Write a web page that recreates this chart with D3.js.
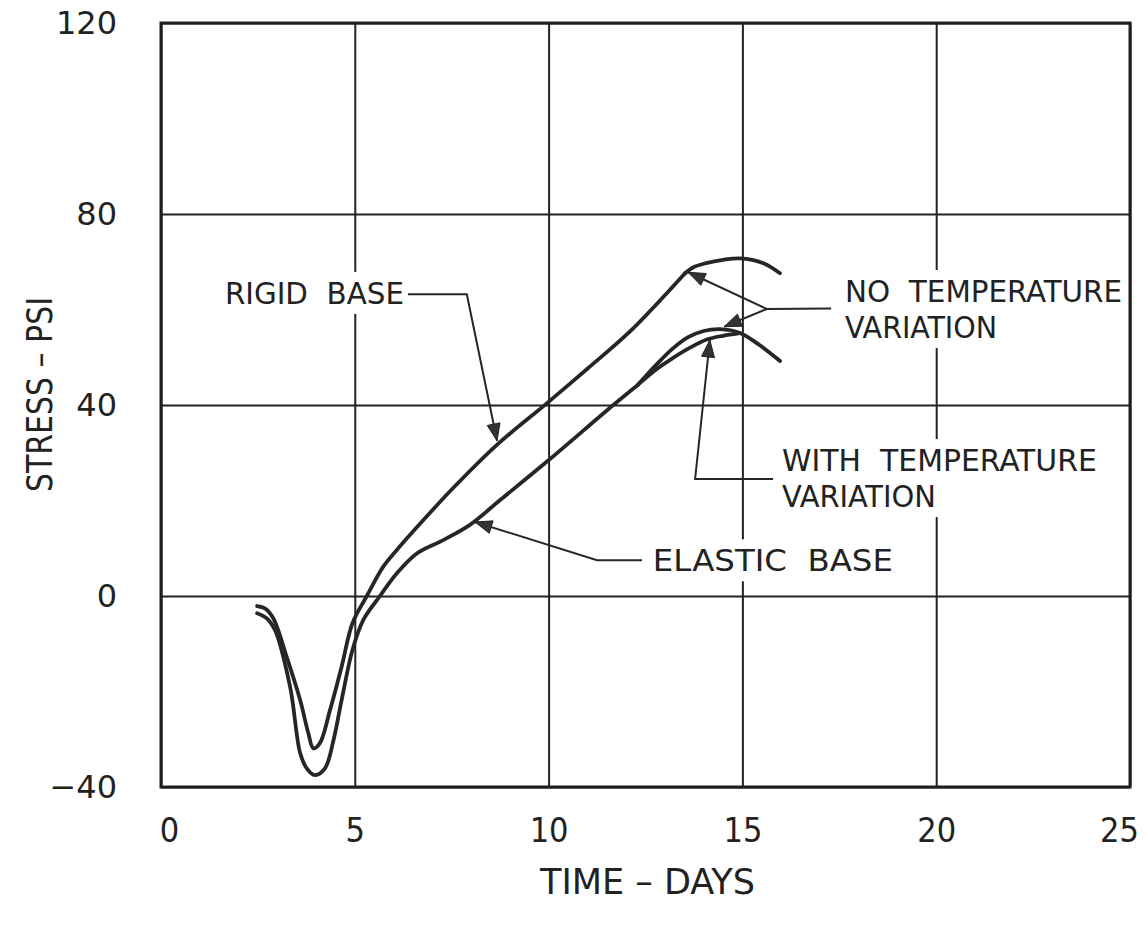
<!DOCTYPE html>
<html>
<head>
<meta charset="utf-8">
<script src="https://cdn.jsdelivr.net/npm/d3@7/dist/d3.min.js"></script>
<style>
  body { margin: 0; background: #fff; }
  svg { display: block; background: #fff; }
  .grid .domain { display: none; }
  .grid line { stroke: #222; stroke-width: 2; }
  .ytick text { font-family: "DejaVu Sans", sans-serif; font-size: 32px; fill: #222; }
  .xtick text { font-family: "Liberation Sans Narrow", "DejaVu Sans Condensed", "Liberation Sans", sans-serif; font-size: 34px; fill: #222; }
  .curve { fill: none; stroke: #262626; stroke-width: 3.8; stroke-linecap: round; stroke-linejoin: round; }
  .leader { fill: none; stroke: #262626; stroke-width: 2; }
  .note { font-family: "Liberation Sans Narrow", "DejaVu Sans Condensed", "Liberation Sans", sans-serif; font-size: 31px; fill: #222; white-space: pre; }
  .title { font-family: "Liberation Sans Narrow", "DejaVu Sans Condensed", "Liberation Sans", sans-serif; font-size: 36px; fill: #222; }
</style>
</head>
<body>
<div id="chart"></div>
<script>
// axis ticks
var dayTicks = [0, 5, 10, 15, 20, 25];
var stressTicks = [-40, 0, 40, 80, 120];

// rigid base, common part (days, psi)
var rigidDays   = [2.48, 2.68, 2.9, 3.24, 3.59, 3.8, 3.93, 4.1, 4.36, 4.66, 4.94, 5.31, 5.73, 6.08, 6.77, 7.5, 8.66, 9.96, 11.0, 12.1, 13.52];
var rigidStress = [-2.1, -2.6, -4.7, -12.7, -21.8, -28.7, -31.9, -30.8, -23.9, -14.8, -5.7, 0, 6.1, 9.6, 15.9, 22.3, 31.6, 40.4, 47.6, 55.4, 67.6];

// rigid base, no temperature variation branch
var rigidNoTempDays   = [13.52, 13.75, 14.06, 14.5, 14.94, 15.54, 15.97];
var rigidNoTempStress = [67.6, 68.9, 69.7, 70.4, 70.7, 69.7, 67.6];

// elastic base, common part
var elasticDays   = [2.48, 2.73, 2.94, 3.33, 3.59, 3.76, 3.97, 4.23, 4.45, 4.66, 4.94, 5.22, 5.65, 6.08, 6.6, 7.28, 7.97, 8.75, 9.95, 11.67, 12.3];
var elasticStress = [-3.6, -4.7, -7.1, -19, -32.9, -36.1, -37.5, -36.1, -30.2, -21.8, -11.3, -5, 0, 4.7, 8.9, 11.7, 14.9, 20.1, 28.1, 40, 44.2];

// elastic base, no temperature variation branch
var elasticNoTempDays   = [12.3, 12.8, 13.2, 13.6, 14.0, 14.42, 14.94, 15.45, 15.97];
var elasticNoTempStress = [44.2, 48.6, 51.8, 54.2, 55.5, 55.9, 55.1, 52.5, 49.2];

// elastic base, with temperature variation branch
var elasticTempDays   = [12.3, 12.8, 13.2, 13.65, 14.08, 14.5, 14.9];
var elasticTempStress = [44.2, 47.6, 49.8, 52.0, 53.7, 54.5, 55.0];

// callouts: text lines, text anchor point and leader points (days, psi)
var notes = [
  { lines: ["RIGID  BASE"], widths: [179], at: [1.65, 63.5],
    leader: [[6.27, 63.2], [7.89, 63.2], [8.67, 32.5]] },
  { lines: ["ELASTIC  BASE"], widths: [240], at: [12.69, 7.5],
    leader: [[12.41, 7.5], [11.25, 7.5], [8.1, 15.5]] },
  { lines: ["NO  TEMPERATURE", "VARIATION"], widths: [277, 152], at: [17.65, 63.9],
    leader: [[17.29, 60.2], [15.63, 60.1], [13.6, 67.8]],
    fork: [[15.63, 60.1], [14.53, 56.4]] },
  { lines: ["WITH  TEMPERATURE", "VARIATION"], widths: [315, 154], at: [16.02, 28.5],
    leader: [[15.79, 24.5], [13.78, 24.5], [14.16, 53.6]] }
];

var W = 1146, H = 926;
var x = d3.scaleLinear().domain([0, 25]).range([161, 1130]);
var y = d3.scaleLinear().domain([-40, 120]).range([787, 23]);

var svg = d3.select("#chart").append("svg")
    .attr("width", W)
    .attr("height", H);

// grid + tick labels
var xAxis = svg.append("g")
    .attr("class", "grid xtick")
    .attr("transform", "translate(0," + y(-40) + ")")
    .call(d3.axisBottom(x).tickValues(dayTicks).tickSize(-(y(-40) - y(120))).tickPadding(31).tickFormat(d3.format("d")));

// end labels sit a little inside, as in the drawing
xAxis.selectAll(".tick text")
    .attr("dx", function(d) { return d === 0 ? 8 : d === 25 ? -11 : 0; });

svg.append("g")
    .attr("class", "grid ytick")
    .attr("transform", "translate(" + x(0) + ",0)")
    .call(d3.axisLeft(y).tickValues(stressTicks).tickSize(-(x(25) - x(0))).tickPadding(44)
      .tickFormat(function(d) { return d < 0 ? "\u2212" + Math.abs(d) : d; }));

var line = d3.line()
    .x(function(d) { return x(d[0]); })
    .y(function(d) { return y(d[1]); })
    .curve(d3.curveCatmullRom.alpha(0.5));

function pairs(a, b) { return a.map(function(v, i) { return [v, b[i]]; }); }

var series = [
  pairs(rigidDays, rigidStress),
  pairs(rigidNoTempDays, rigidNoTempStress),
  pairs(elasticDays, elasticStress),
  pairs(elasticNoTempDays, elasticNoTempStress),
  pairs(elasticTempDays, elasticTempStress)
];

svg.append("g").selectAll("path")
    .data(series)
  .enter().append("path")
    .attr("class", "curve")
    .attr("d", line);

// leaders and arrowheads
var straight = d3.line()
    .x(function(d) { return x(d[0]); })
    .y(function(d) { return y(d[1]); });

function arrowHead(g, from, tip) {
  var tx = x(tip[0]), ty = y(tip[1]),
      a = Math.atan2(ty - y(from[1]), tx - x(from[0])),
      L = 17, hw = 6.5;
  var pts = [
    [tx, ty],
    [tx - L * Math.cos(a) - hw * Math.sin(a), ty - L * Math.sin(a) + hw * Math.cos(a)],
    [tx - L * Math.cos(a) + hw * Math.sin(a), ty - L * Math.sin(a) - hw * Math.cos(a)]
  ];
  g.append("path")
      .attr("d", "M" + pts.join("L") + "Z")
      .attr("fill", "#333")
      .attr("stroke", "#222")
      .attr("stroke-width", 1);
}

var lg = svg.append("g");
notes.forEach(function(n) {
  lg.append("path").attr("class", "leader").attr("d", straight(n.leader));
  var k = n.leader.length;
  arrowHead(lg, n.leader[k - 2], n.leader[k - 1]);
  if (n.fork) {
    lg.append("path").attr("class", "leader").attr("d", straight(n.fork));
    arrowHead(lg, n.fork[0], n.fork[1]);
  }
});

// callout text on white patches (they break the grid lines)
notes.forEach(function(n) {
  var g = svg.append("g");
  var bg = g.append("rect").attr("fill", "#fff");
  var t = g.append("text")
      .attr("class", "note")
      .attr("x", x(n.at[0]))
      .attr("y", y(n.at[1]));
  n.lines.forEach(function(s, i) {
    t.append("tspan")
        .attr("x", x(n.at[0]))
        .attr("dy", i === 0 ? "0.36em" : 36)
        .attr("textLength", n.widths[i])
        .attr("lengthAdjust", "spacingAndGlyphs")
        .text(s);
  });
  var b = t.node().getBBox();
  bg.attr("x", b.x - 4).attr("y", b.y - 3).attr("width", b.width + 8).attr("height", b.height + 6);
});

// frame
svg.append("rect")
    .attr("x", x(0))
    .attr("y", y(120))
    .attr("width", x(25) - x(0))
    .attr("height", y(-40) - y(120))
    .attr("fill", "none")
    .attr("stroke", "#1e1e1e")
    .attr("stroke-width", 3);

// axis titles
svg.append("text")
    .attr("class", "title")
    .attr("x", 540)
    .attr("y", 881)
    .attr("dy", "0.36em")
    .attr("textLength", 215)
    .attr("lengthAdjust", "spacingAndGlyphs")
    .text("TIME \u2013 DAYS");

svg.append("text")
    .attr("class", "title")
    .attr("transform", "translate(39,492) rotate(-90)")
    .attr("dy", "0.36em")
    .attr("textLength", 195)
    .attr("lengthAdjust", "spacingAndGlyphs")
    .text("STRESS \u2013 PSI");
</script>
</body>
</html>
